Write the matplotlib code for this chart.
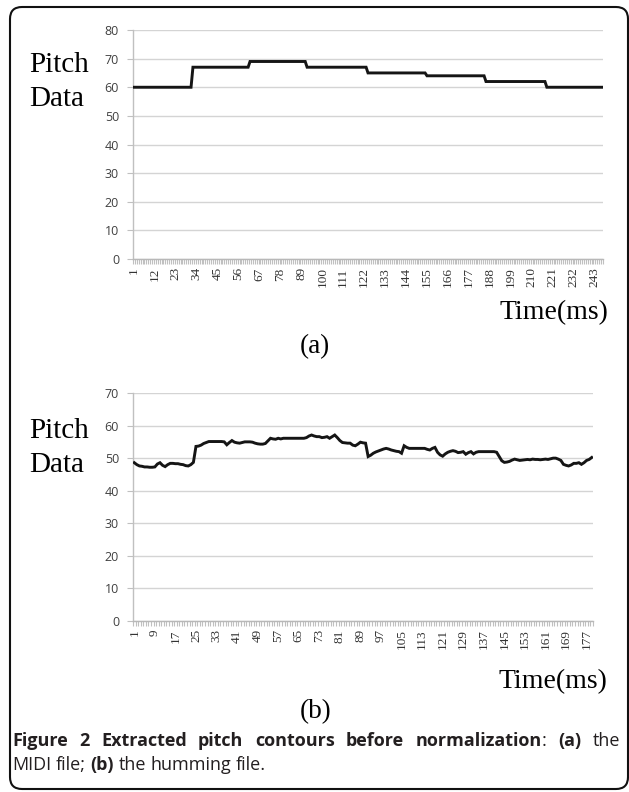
import numpy as np
import matplotlib
matplotlib.use('Agg')
from matplotlib import pyplot as plt
from matplotlib.patches import FancyBboxPatch
from matplotlib.transforms import IdentityTransform

W, H = 629, 792

# (a) MIDI file: note held for a number of frames
midi_notes = [60, 67, 69, 67, 65, 64, 62, 60]
midi_lengths = [31, 30, 30, 32, 31, 31, 32, 30]

# (b) humming file: pitch per frame
humming = [
    48.6, 48.0, 47.6, 47.5, 47.3, 47.3, 47.2, 47.2, 47.3, 48.2,
    48.6, 47.8, 47.4, 48.0, 48.4, 48.4, 48.3, 48.3, 48.1, 48.0,
    47.7, 47.6, 48.0, 48.7, 53.6, 53.7, 54.0, 54.5, 54.8, 55.1,
    55.1, 55.1, 55.1, 55.1, 55.1, 55.0, 54.1, 54.8, 55.4, 54.9,
    54.7, 54.6, 54.8, 55.0, 55.0, 55.0, 54.9, 54.6, 54.4, 54.3,
    54.3, 54.5, 55.3, 56.1, 55.9, 55.8, 56.1, 55.9, 56.1, 56.1,
    56.1, 56.1, 56.1, 56.1, 56.1, 56.1, 56.1, 56.3, 56.8, 57.1,
    56.8, 56.6, 56.6, 56.3, 56.4, 56.6, 56.1, 56.6, 57.1, 56.3,
    55.4, 54.8, 54.7, 54.6, 54.6, 54.0, 53.8, 54.3, 54.9, 54.7,
    54.6, 50.5, 50.9, 51.5, 51.9, 52.2, 52.5, 52.8, 53.0, 52.8,
    52.5, 52.3, 52.1, 52.0, 51.5, 53.8, 53.3, 53.0, 53.0, 53.0,
    53.0, 53.0, 53.0, 53.0, 52.7, 52.5, 53.0, 53.3, 51.8, 51.0,
    50.6, 51.3, 51.8, 52.1, 52.3, 52.1, 51.7, 51.8, 52.0, 51.2,
    51.7, 52.0, 51.3, 51.8, 52.0, 52.0, 52.0, 52.0, 52.0, 52.0,
    52.0, 51.8, 50.5, 49.2, 48.7, 48.8, 49.0, 49.4, 49.7, 49.5,
    49.3, 49.4, 49.5, 49.6, 49.5, 49.7, 49.6, 49.6, 49.5, 49.6,
    49.7, 49.6, 49.8, 50.0, 50.0, 49.7, 49.3, 48.1, 47.8, 47.6,
    47.9, 48.4, 48.4, 48.6, 48.1, 48.6, 49.3, 49.6, 50.2,
]

midi = np.repeat(midi_notes, midi_lengths)

fig = plt.figure(figsize=(W / 100, H / 100), dpi=100)
fig.patch.set_facecolor('white')


def fx(x):
    return x / W


def fy(y):
    return 1 - y / H


def panel(rect, values, step, ymax):
    # rect in pixels: left, top, right, bottom
    l, t, r, b = rect
    ax = fig.add_axes([fx(l), fy(b), fx(r - l), (b - t) / H])
    n = len(values)
    x = np.arange(n)
    ax.plot(x, values, color='#151515', lw=2.1, solid_joinstyle='miter', zorder=3)
    ax.set_xlim(-0.5, n - 0.5)
    ax.set_ylim(0, ymax)
    ax.set_yticks(np.arange(0, ymax + 1, 10))
    ax.yaxis.grid(True, color='#d4d4d4', lw=1.0)
    ax.set_axisbelow(True)
    for s in ['top', 'right']:
        ax.spines[s].set_visible(False)
    ax.spines['left'].set_color('#c0c0c0')
    ax.spines['bottom'].set_color('#b8b8b8')
    ax.spines['left'].set_linewidth(1.0)
    ax.spines['bottom'].set_linewidth(1.0)
    pos = x[::step]
    ax.set_xticks(pos)
    ax.set_xticklabels([str(p + 1) for p in pos], rotation=90,
                       family='Liberation Serif', fontsize=9.5, color='#333333')
    ax.set_xticks(np.arange(n + 1) - 0.5, minor=True)
    ax.tick_params(axis='x', which='major', length=0, pad=6)
    ax.tick_params(axis='x', which='minor', length=3.5, color='#c0c0c0', width=0.8)
    ax.tick_params(axis='y', length=4, color='#c0c0c0', pad=6)
    for lab in ax.get_yticklabels():
        lab.set_family('Open Sans')
        lab.set_fontsize(9)
        lab.set_color('#404040')
    return ax


panel((133, 30, 603, 259), midi, 11, 80)
panel((133, 393, 593, 621), humming, 8, 70)

serif = 'Liberation Serif'
for y0 in (65, 431):
    fig.text(fx(29), fy(y0), 'Pitch', family=serif, fontsize=21, va='center', ha='left')
    fig.text(fx(29), fy(y0 + 34), 'Data', family=serif, fontsize=21, va='center', ha='left')
fig.text(fx(608), fy(313), 'Time(ms)', family=serif, fontsize=20, va='center', ha='right')
fig.text(fx(607), fy(682), 'Time(ms)', family=serif, fontsize=20, va='center', ha='right')
fig.text(fx(315), fy(347), '(a)', family=serif, fontsize=19.5, va='center', ha='center')
fig.text(fx(316), fy(712), '(b)', family=serif, fontsize=19.5, va='center', ha='center')

# caption: first line justified to the box width, second line left-aligned
renderer = fig.canvas.get_renderer()
cap_color = '#231f20'
cap_size = 13
line1 = [[('Figure', 'bold')], [('2', 'bold')], [('Extracted', 'bold')], [('pitch', 'bold')],
         [('contours', 'bold')], [('before', 'bold')],
         [('normalization', 'bold'), (':', 'normal')], [('(a)', 'bold')], [('the', 'normal')]]
line2 = [[('MIDI', 'normal')], [('file;', 'normal')], [('(b)', 'bold')], [('the', 'normal')],
         [('humming', 'normal')], [('file.', 'normal')]]


def put_words(words, y0, x0, x1=None):
    # measure first
    widths = []
    for w in words:
        tot = 0
        for txt, wt in w:
            t = fig.text(0, 0, txt, family='Open Sans', fontsize=cap_size, weight=wt)
            tot += t.get_window_extent(renderer).width
            t.remove()
        widths.append(tot)
    sp = fig.text(0, 0, 'a a', family='Open Sans', fontsize=cap_size)
    sa = fig.text(0, 0, 'aa', family='Open Sans', fontsize=cap_size)
    space = sp.get_window_extent(renderer).width - sa.get_window_extent(renderer).width
    sp.remove()
    sa.remove()
    gap = space if x1 is None else (x1 - x0 - sum(widths)) / (len(words) - 1)
    xcur = x0
    for w in words:
        for txt, wt in w:
            t = fig.text(fx(xcur), fy(y0), txt, family='Open Sans', fontsize=cap_size,
                         weight=wt, color=cap_color, va='center', ha='left')
            xcur += t.get_window_extent(renderer).width
        xcur += gap


put_words(line1, 741, 12, 620)
put_words(line2, 765, 12)

# frame around the figure
box = FancyBboxPatch((10, 3), 618, 782, boxstyle='round,pad=0,rounding_size=12',
                     transform=IdentityTransform(), fill=False, ec='#111111', lw=1.5)
fig.patches.append(box)

fig.savefig('out.png', dpi=100)
